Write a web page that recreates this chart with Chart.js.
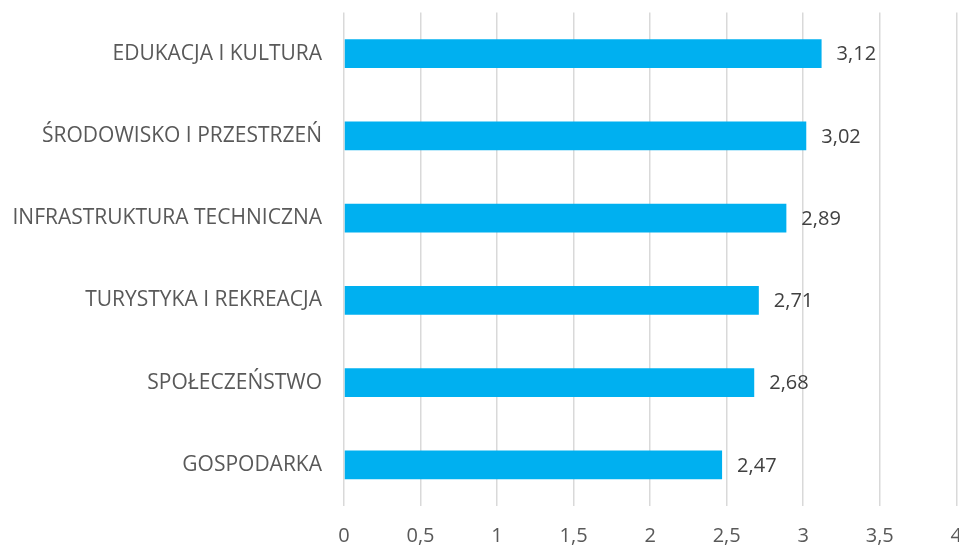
<!DOCTYPE html>
<html>
<head>
<meta charset="utf-8">
<script src="https://cdn.jsdelivr.net/npm/chart.js@4/dist/chart.umd.min.js"></script>
<style>
html,body{margin:0;padding:0;background:#fff;overflow:hidden;width:959px;height:547px;}
#wrap{position:absolute;left:0;top:-22px;width:980px;height:569px;}
</style>
</head>
<body>
<div id="wrap"><canvas id="c"></canvas></div>
<script>
const categories = ["EDUKACJA I KULTURA","ŚRODOWISKO I PRZESTRZEŃ","INFRASTRUKTURA TECHNICZNA","TURYSTYKA I REKREACJA","SPOŁECZEŃSTWO","GOSPODARKA"];
const values = [3.12, 3.02, 2.89, 2.71, 2.68, 2.47];
const xTicks = [0, 0.5, 1, 1.5, 2, 2.5, 3, 3.5, 4];

const fmt = v => String(v).replace('.', ',');
const FONT = "'Open Sans', 'Liberation Sans', sans-serif";

const labelPlugin = {
  id: 'vals',
  afterDatasetsDraw(chart) {
    const ctx = chart.ctx;
    const meta = chart.getDatasetMeta(0);
    ctx.save();
    ctx.font = "20px " + FONT;
    ctx.fillStyle = '#404040';
    ctx.textAlign = 'left';
    ctx.textBaseline = 'middle';
    meta.data.forEach((bar, i) => {
      ctx.fillText(fmt(values[i]), bar.x + 15, bar.y + 1);
    });
    ctx.restore();
  }
};

new Chart(document.getElementById('c'), {
  type: 'bar',
  data: {
    labels: categories,
    datasets: [{
      data: values,
      backgroundColor: '#00B0F0',
      borderWidth: 0,
      categoryPercentage: 1,
      barPercentage: 0.35
    }]
  },
  options: {
    indexAxis: 'y',
    responsive: true,
    maintainAspectRatio: false,
    animation: false,
    layout: { padding: { top: 12, right: 0, left: 0, bottom: 0 } },
    plugins: { legend: { display: false }, tooltip: { enabled: false } },
    scales: {
      x: {
        min: 0, max: 4,
        afterBuildTicks(s) { s.ticks = xTicks.map(v => ({ value: v })); },
        grid: { color: '#d9d9d9', lineWidth: 1.5, drawTicks: false },
        border: { display: false },
        ticks: {
          padding: 18,
          color: '#595959',
          font: { family: FONT, size: 20 },
          maxRotation: 0,
          callback: v => fmt(v)
        },
        afterFit(s) { s.height = 41; }
      },
      y: {
        grid: { display: false, drawTicks: false },
        border: { display: false },
        ticks: {
          padding: 22,
          color: '#595959',
          font: { family: FONT, size: 21 }
        },
        afterFit(s) { s.width = 344; }
      }
    }
  },
  plugins: [labelPlugin]
});
</script>
</body>
</html>
